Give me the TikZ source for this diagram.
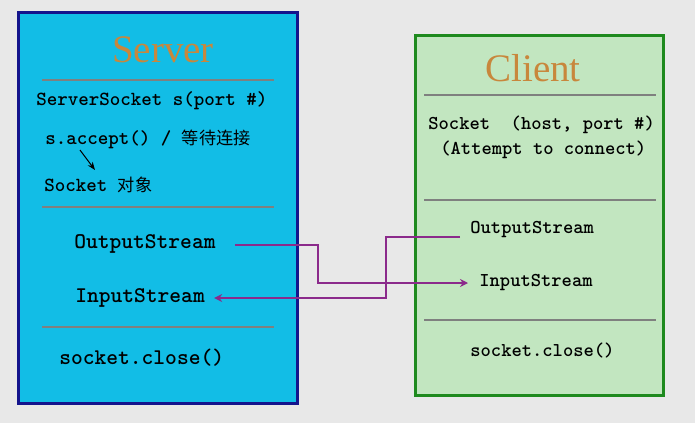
\documentclass[tikz,border=0pt]{standalone}
\usepackage{fontspec}
\setmainfont{Liberation Serif}
\newfontfamily\cjk[Scale=0.86]{Noto Sans CJK SC}
\usetikzlibrary{arrows.meta,calc}
\definecolor{bgcol}{HTML}{E8E8E8}
\definecolor{srvfill}{HTML}{12BDE6}
\definecolor{srvline}{HTML}{14148C}
\definecolor{clifill}{HTML}{C2E6C0}
\definecolor{cliline}{HTML}{1E8A1E}
\definecolor{titlecol}{HTML}{C8873C}
\definecolor{sepcol}{HTML}{7F807F}
\definecolor{conncol}{HTML}{8B2A8B}

\begin{document}
\begin{tikzpicture}[x=0.5pt,y=-0.5pt,
  title/.style={font=\fontsize{19.5}{22}\selectfont, text=titlecol, inner sep=0},
  srvtext/.style={font=\ttfamily\bfseries\fontsize{10}{12}\selectfont, anchor=west, inner sep=0},
  srvbig/.style={font=\ttfamily\bfseries\fontsize{11.2}{13}\selectfont, anchor=west, inner sep=0},
  clitext/.style={font=\ttfamily\bfseries\fontsize{9.8}{12}\selectfont, anchor=west, inner sep=0},
  sepline/.style={draw=sepcol, line width=1.3pt},
  conn/.style={draw=conncol, line width=1pt, -{Stealth[length=4pt,width=4pt]}}]
\fill[bgcol] (0,0) rectangle (695,423);
% server
\draw[srvline, fill=srvfill, line width=1.5pt] (18,12) rectangle (297,403);
\node[title] (srvtitle) at (163,50) {Server};
\draw[sepline] (42,80) -- (274,80);
\node[srvtext] (ss) at (36,101) {ServerSocket s(port \#)};
\node[srvtext] (acc) at (45,139) {s.accept() / {\cjk\mdseries 等待连接}};
\node[srvtext] (sock) at (44,185) {Socket {\cjk\mdseries 对象}};
\draw[-{Stealth[length=4pt,width=3pt]}, line width=0.5pt] ($(acc.west)+(35,11)$) -- ($(sock.west)+(51,-15)$);
\draw[sepline] (42,207) -- (274,207);
\node[srvbig] (sout) at (74,244) {OutputStream};
\node[srvbig] (sin) at (75,298) {InputStream};
\draw[sepline] (42,327) -- (274,327);
\node[srvbig] (sclose) at (59,358) {socket.close()};
% client
\draw[cliline, fill=clifill, line width=1.5pt] (415,35) rectangle (663,395);
\node[title] (clititle) at (533,68) {Client};
\draw[sepline] (424,95) -- (656,95);
\node[clitext] (csock) at (428,125) {Socket\ \ (host, port \#)};
\node[clitext] (catt) at (440,150) {(Attempt to connect)};
\draw[sepline] (424,200) -- (656,200);
\node[clitext] (cout) at (470,230) {OutputStream};
\node[clitext] (cin) at (479,283) {InputStream};
\draw[sepline] (424,320) -- (656,320);
\node[clitext] (cclose) at (470,350) {socket.close()};
% streams
\coordinate (bendA) at (318,0);
\coordinate (bendB) at (386,0);
\draw[conn] ($(sout.east)+(19,1)$) -| (bendA |- cin.west) -- ($(cin.west)+(-11,0)$);
\draw[conn] ($(cout.west)+(-10,7)$) -| (bendB |- sin.east) -- ($(sin.east)+(9,0)$);
\end{tikzpicture}
\end{document}
